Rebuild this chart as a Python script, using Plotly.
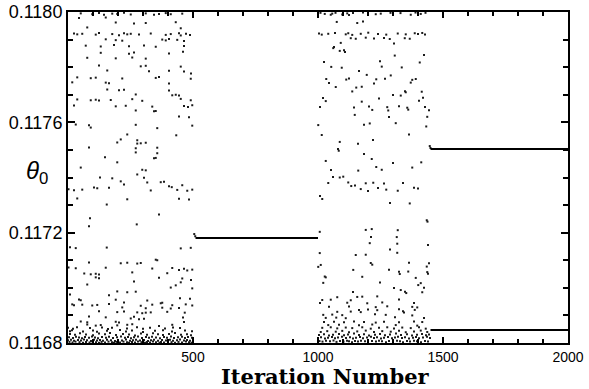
import plotly.graph_objects as go

# ---------------- data (iteration number, theta_0) ----------------
# chaotic iterates, first regime (0-500): upper part
band_a_upper = [
    (51, .117995), (97, .117992), (124, .117996), (144, .117990), (177, .117994), (197, .117993),
    (224, .117997), (251, .117991), (311, .117995), (344, .117990), (364, .117993), (391, .117996),
    (411, .117992), (457, .117994),
    (44, .117978), (151, .117980),
    (191, .117962), (264, .117958), (311, .117960), (431, .117963),
    (77, .117944), (451, .117941),
    (24, .117922), (37, .117919), (57, .117921), (111, .117918), (124, .117924), (177, .117920),
    (204, .117916), (224, .117923), (237, .117919), (251, .117921), (284, .117918), (331, .117922),
    (391, .117917), (411, .117920), (444, .117923), (451, .117915), (472, .117921), (488, .117917),
    (151, .117901), (191, .117898), (217, .117896), (377, .117900), (391, .117897), (404, .117902),
    (437, .117899), (464, .117895),
    (71, .117878), (131, .117875), (184, .117880), (244, .117876), (304, .117879), (351, .117874),
    (464, .117877),
    (131, .117852), (244, .117849), (264, .117853), (404, .117850), (460, .117856),
    (77, .117834), (191, .117832), (257, .117835), (311, .117831),
    (124, .117806), (291, .117803), (311, .117805), (451, .117802),
    (157, .117788), (324, .117785), (404, .117787), (464, .117784), (492, .117777),
    (37, .117763), (91, .117760), (111, .117762), (217, .117759), (351, .117761), (364, .117764),
    (491, .117758),
    (17, .117745), (151, .117744), (164, .117742), (404, .117741),
    (157, .117719), (204, .117716), (224, .117718), (404, .117715),
    (271, .117701), (417, .117698), (431, .117700), (444, .117697),
    (37, .117683), (91, .117680), (111, .117682), (124, .117679), (171, .117681), (257, .117684),
    (297, .117678), (451, .117685), (491, .117680),
    (24, .117661), (191, .117658), (231, .117660), (337, .117657), (464, .117659), (480, .117656),
    (497, .117662),
    (271, .117643), (344, .117640), (351, .117641),
    (444, .117621), (484, .117618),
    (31, .117592), (84, .117589), (271, .117591), (497, .117588),
    (91, .117581), (357, .117579),
    (237, .117556), (433, .117553),
    (211, .117538), (277, .117535),
    (197, .117527), (277, .117523), (291, .117524), (311, .117526),
    (84, .117509), (271, .117506), (357, .117508),
    (271, .117491), (357, .117488),
    (148, .117473), (344, .117470), (351, .117471),
    (197, .117455), (51, .117436), (297, .117428), (311, .117426), (277, .117411),
    (128, .117400), (177, .117397), (304, .117399),
    (211, .117386), (317, .117382), (371, .117383), (384, .117385),
    (224, .117375), (457, .117372), (404, .117368), (415, .117365),
    (104, .117364), (117, .117361), (164, .117363),
    (2, .117357), (24, .117354), (57, .117356), (331, .117353), (437, .117355), (477, .117352),
    (497, .117356),
    (37, .117324), (237, .117321), (444, .117323), (484, .117320),
    (155, .117302), (364, .117266), (88, .117252), (275, .117230), (84, .117223),
    (8, .117147), (31, .117144), (155, .117146), (451, .117143), (491, .117145),
]

# first regime: lower part
band_a_lower = [
    (351, .117102), (357, .117100),
    (84, .117092), (211, .117089), (237, .117091), (277, .117088), (291, .117090),
    (2, .117074), (31, .117071), (151, .117073), (337, .117070), (417, .117072), (464, .117069),
    (444, .117065), (477, .117063), (497, .117066),
    (257, .117056), (397, .117053),
    (65, .117052), (91, .117049), (111, .117051), (124, .117048),
    (111, .117038), (124, .117035), (364, .117037), (457, .117034), (492, .117028),
    (264, .117023), (451, .117020), (77, .117012), (431, .117009), (411, .117001), (497, .116998),
    (197, .116987), (237, .116984), (271, .116986), (8, .116976), (164, .116973),
    (448, .116962), (488, .116960),
    (44, .116958), (51, .116955), (191, .116957), (317, .116954),
    (224, .116947), (371, .116944), (377, .116946),
    (17, .116940), (24, .116937), (57, .116939), (97, .116936), (117, .116938), (164, .116941),
    (291, .116935), (337, .116939), (417, .116937), (471, .116940), (497, .116936),
    (217, .116929), (311, .116926), (377, .116928), (411, .116925), (444, .116927),
    (124, .116915), (197, .116912), (224, .116914), (331, .116911), (397, .116913), (467, .116910),
    (277, .116911), (297, .116908), (311, .116910),
    (84, .116896), (151, .116893), (264, .116895), (460, .116892),
    (251, .116889), (284, .116886), (304, .116888),
    (51, .116878), (77, .116875), (191, .116877), (204, .116874), (464, .116876),
    (77, .116867), (111, .116863), (131, .116865), (197, .116864), (237, .116866), (257, .116868),
    (364, .116862), (417, .116866),
]

# first regime: crowded floor near 0.1168
band_a_floor = [
    (0, .116855), (20, .116852), (36, .116857), (88, .116854), (136, .116856), (160, .116851),
    (176, .116855), (236, .116853), (276, .116857), (300, .116852), (328, .116855), (388, .116853),
    (420, .116856), (448, .116854),
    (8, .116843), (16, .116846), (60, .116842), (100, .116845), (116, .116841), (156, .116844),
    (208, .116847), (232, .116842), (256, .116845), (300, .116840), (348, .116844), (380, .116846),
    (416, .116842), (468, .116845), (496, .116843),
    (8, .116833), (28, .116830), (48, .116835), (72, .116831), (100, .116828), (124, .116834),
    (148, .116832), (168, .116836), (192, .116829), (220, .116833), (244, .116831), (268, .116827),
    (292, .116834), (316, .116830), (340, .116835), (360, .116832), (380, .116829), (404, .116833),
    (428, .116836), (452, .116830), (476, .116832), (492, .116828),
    (4, .116821), (20, .116818), (32, .116823), (44, .116820), (56, .116817), (68, .116822),
    (84, .116819), (96, .116824), (108, .116820), (120, .116817), (136, .116822), (152, .116819),
    (164, .116823), (180, .116818), (196, .116821), (212, .116824), (228, .116819), (240, .116822),
    (252, .116817), (264, .116821), (280, .116824), (296, .116818), (312, .116822), (324, .116819),
    (336, .116823), (352, .116820), (368, .116817), (384, .116822), (396, .116819), (412, .116824),
    (424, .116818), (440, .116821), (456, .116823), (468, .116818), (480, .116822), (496, .116819),
    (0, .116810), (12, .116812), (24, .116808), (40, .116811), (52, .116809), (64, .116813),
    (76, .116810), (92, .116807), (104, .116812), (116, .116809), (128, .116811), (140, .116808),
    (156, .116812), (172, .116810), (188, .116807), (200, .116811), (216, .116809), (232, .116813),
    (248, .116808), (260, .116810), (272, .116812), (288, .116809), (304, .116811), (320, .116807),
    (332, .116810), (344, .116812), (360, .116808), (376, .116811), (392, .116809), (408, .116812),
    (420, .116808), (436, .116810), (448, .116813), (464, .116809), (476, .116811), (488, .116808),
    (500, .116810),
    (6, .116804), (18, .116802), (30, .116805), (46, .116803), (60, .116801), (72, .116804),
    (86, .116802), (98, .116805), (112, .116803), (124, .116801), (134, .116804), (148, .116802),
    (162, .116805), (176, .116803), (184, .116801), (194, .116804), (208, .116802), (222, .116805),
    (236, .116803), (244, .116801), (256, .116804), (268, .116802), (280, .116805), (294, .116803),
    (308, .116801), (316, .116804), (328, .116802), (340, .116805), (352, .116803), (366, .116801),
    (372, .116804), (384, .116802), (400, .116805), (414, .116803), (428, .116801), (442, .116804),
    (456, .116802), (472, .116805), (484, .116803), (494, .116801),
]

# chaotic iterates, second regime (1000-1450): upper part
band_b_upper = [
    (1010, .117997), (1070, .117997), (1140, .117996), (1180, .117998), (1290, .117997),
    (1330, .117996), (1390, .117998), (1430, .117997),
    (1027, .117993), (1051, .117990), (1057, .117994), (1097, .117991), (1117, .117995),
    (1124, .117989), (1231, .117992), (1251, .117994), (1371, .117990), (1411, .117993),
    (1075, .117964), (1157, .117960), (1180, .117966),
    (1004, .117922), (1015, .117918), (1041, .117921), (1068, .117924), (1111, .117919),
    (1121, .117923), (1137, .117917), (1171, .117921), (1201, .117925), (1240, .117920),
    (1273, .117918), (1319, .117922), (1351, .117919), (1387, .117923), (1400, .117920),
    (1417, .117924), (1428, .117918),
    (1131, .117905), (1151, .117903), (1191, .117907), (1224, .117904), (1264, .117906),
    (1287, .117902), (1347, .117905), (1367, .117903),
    (1091, .117888), (1304, .117886),
    (1064, .117873), (1061, .117869), (1104, .117861), (1108, .117855), (1087, .117859),
    (1424, .117844), (1307, .117842),
    (1024, .117819), (1248, .117821), (1407, .117817),
    (1053, .117801), (1095, .117798), (1255, .117802), (1335, .117799),
    (1164, .117786), (1195, .117772), (1291, .117770),
    (1033, .117757), (1113, .117755), (1124, .117759), (1233, .117756), (1268, .117758),
    (1377, .117754), (1391, .117757),
    (1044, .117743), (1224, .117741), (1371, .117744),
    (1071, .117728), (1153, .117726), (1175, .117729),
    (1137, .117712), (1348, .117713), (1351, .117709), (1415, .117711),
    (1300, .117699), (1331, .117697),
    (1020, .117688), (1244, .117686), (1420, .117689),
    (1031, .117677), (1175, .117675), (1404, .117678),
    (1008, .117656), (1144, .117654), (1204, .117657), (1277, .117655), (1324, .117658),
    (1357, .117653), (1428, .117656),
    (1217, .117645), (1281, .117643), (1361, .117646), (1444, .117644),
    (1147, .117627), (1284, .117619), (1437, .117620),
    (1001, .117590), (1184, .117591), (1207, .117596), (1311, .117597), (1433, .117585),
    (1015, .117554), (1364, .117556), (1220, .117536), (1087, .117529), (1160, .117522),
    (1080, .117503), (1083, .117497), (1184, .117485), (1215, .117467), (1031, .117460),
    (1300, .117453), (1413, .117455), (1233, .117438), (1377, .117436),
    (1052, .117427), (1161, .117425), (1255, .117428),
    (1060, .117402), (1087, .117400), (1101, .117403),
    (1041, .117380), (1121, .117382), (1191, .117379), (1221, .117381), (1264, .117378),
    (1340, .117380),
    (1133, .117369), (1148, .117371), (1240, .117362), (1384, .117363), (1400, .117360),
    (1171, .117358), (1273, .117356), (1200, .117351), (1319, .117352),
    (1008, .117333), (1017, .117322), (1288, .117308), (1367, .117306),
    (1435, .117245), (1438, .117240), (1215, .117213), (1191, .117210), (1319, .117209),
    (1007, .117203), (1212, .117184), (1315, .117184), (1207, .117162), (1317, .117160),
    (1440, .117155), (1288, .117139),
]

# second regime: lower part
band_b_lower = [
    (1007, .117126), (1317, .117127), (1151, .117119), (1191, .117120),
    (1211, .117090), (1364, .117091), (1444, .117089), (1011, .117083), (1217, .117084),
    (1001, .117076), (1435, .117077), (1141, .117065), (1284, .117066),
    (1324, .117058), (1361, .117059), (1437, .117057), (1327, .117050), (1440, .117051),
    (1177, .117040), (1027, .117041), (1031, .117038), (1391, .117036),
    (1021, .117018), (1248, .117019), (1411, .117017), (1401, .117010),
    (1304, .116999), (1424, .117000), (1331, .116992),
    (1140, .116985), (1348, .116986), (1417, .116984), (1353, .116981),
    (1157, .116967), (1177, .116968), (1077, .116966), (1237, .116969),
    (1017, .116956), (1051, .116957), (1131, .116955), (1324, .116958),
    (1008, .116945), (1117, .116946), (1197, .116944), (1257, .116947), (1384, .116945),
    (1044, .116931), (1124, .116932), (1231, .116930), (1277, .116933), (1377, .116931),
    (1397, .116929),
    (1164, .116920), (1200, .116921), (1237, .116919), (1324, .116922), (1387, .116920),
    (1077, .116913), (1131, .116914), (1171, .116912), (1340, .116915), (1344, .116911),
    (1021, .116902), (1057, .116903), (1097, .116901), (1228, .116904), (1271, .116902),
    (1377, .116900),
    (1031, .116891), (1073, .116892), (1111, .116890), (1308, .116893), (1424, .116891),
    (1024, .116876), (1064, .116877), (1104, .116875), (1144, .116878), (1184, .116876),
    (1231, .116874), (1264, .116877), (1324, .116875), (1384, .116878), (1417, .116876),
    (1041, .116865), (1084, .116866), (1164, .116864), (1217, .116867), (1311, .116865),
    (1397, .116863),
]

# second regime: crowded floor near 0.1168
band_b_floor = [
    (1017, .116855), (1051, .116857), (1077, .116853), (1111, .116856), (1137, .116854),
    (1177, .116857), (1211, .116852), (1244, .116855), (1277, .116857), (1304, .116853),
    (1337, .116856), (1371, .116854), (1404, .116857), (1431, .116852),
    (1011, .116840), (1037, .116843), (1071, .116841), (1097, .116844), (1124, .116839),
    (1157, .116842), (1191, .116845), (1224, .116840), (1257, .116843), (1291, .116841),
    (1324, .116844), (1351, .116839), (1384, .116842), (1411, .116845), (1437, .116840),
    (1004, .116829), (1024, .116832), (1044, .116827), (1060, .116830), (1084, .116833),
    (1104, .116828), (1120, .116831), (1144, .116834), (1164, .116829), (1184, .116832),
    (1204, .116827), (1228, .116830), (1248, .116833), (1268, .116828), (1288, .116831),
    (1312, .116834), (1332, .116829), (1356, .116832), (1376, .116827), (1396, .116830),
    (1416, .116833), (1432, .116828), (1444, .116831),
    (1000, .116818), (1012, .116821), (1028, .116816), (1040, .116819), (1056, .116822),
    (1068, .116817), (1080, .116820), (1096, .116823), (1112, .116818), (1128, .116821),
    (1140, .116816), (1152, .116819), (1168, .116822), (1180, .116817), (1196, .116820),
    (1212, .116823), (1224, .116818), (1236, .116821), (1252, .116816), (1264, .116819),
    (1280, .116822), (1296, .116817), (1308, .116820), (1320, .116823), (1336, .116818),
    (1348, .116821), (1364, .116816), (1380, .116819), (1392, .116822), (1404, .116817),
    (1420, .116820), (1436, .116823), (1448, .116818),
    (1006, .116807), (1018, .116805), (1032, .116808), (1048, .116806), (1062, .116809),
    (1074, .116804), (1088, .116807), (1102, .116805), (1116, .116808), (1124, .116806),
    (1136, .116803), (1148, .116807), (1160, .116805), (1172, .116808), (1188, .116806),
    (1200, .116803), (1216, .116807), (1232, .116805), (1244, .116808), (1256, .116806),
    (1272, .116803), (1284, .116807), (1300, .116805), (1316, .116808), (1328, .116806),
    (1340, .116803), (1356, .116807), (1368, .116805), (1384, .116808), (1396, .116806),
    (1412, .116803), (1428, .116807), (1440, .116805),
]

# transients entering the stable states
transient_points = [(505, .117195), (509, .117187), (1447, .117514), (1450, .117507)]

# fixed point (iterations ~510-1000) and period-2 cycle (iterations ~1450-2000)
fixed_iter = [510, 1000]
fixed_theta = [0.117181, 0.117181]
cycle_iter = [1450, 2000]
cycle_theta_high = [0.117503, 0.117503]
cycle_theta_low = [0.116847, 0.116847]

x_tick_vals = [500, 1000, 1500, 2000]
y_tick_vals = [0.1168, 0.1172, 0.1176, 0.1180]
y_tick_text = ["0.1168", "0.1172", "0.1176", "0.1180"]

# ---------------- figure ----------------
all_points = band_a_upper + band_a_lower + band_a_floor + band_b_upper + band_b_lower + band_b_floor + transient_points
px_iter = [p[0] for p in all_points]
px_theta = [p[1] for p in all_points]

fig = go.Figure()
fig.add_trace(go.Scatter(
    x=px_iter, y=px_theta, mode="markers",
    marker=dict(symbol="square", size=2, color="#1a1a1a", line=dict(width=0)),
    hoverinfo="skip", showlegend=False,
))
for xs, ys in [(fixed_iter, fixed_theta), (cycle_iter, cycle_theta_high), (cycle_iter, cycle_theta_low)]:
    fig.add_trace(go.Scatter(x=xs, y=ys, mode="lines", line=dict(color="black", width=2),
                             hoverinfo="skip", showlegend=False))

axis_common = dict(
    showline=True, linewidth=2, linecolor="black", mirror="ticks",
    ticks="inside", tickcolor="black", tickwidth=2,
    showgrid=False, zeroline=False, automargin=False,
)

fig.update_layout(
    width=589, height=389,
    margin=dict(l=68, r=21, t=12, b=46),
    paper_bgcolor="white", plot_bgcolor="white",
    xaxis=dict(range=[0, 2000], tickvals=x_tick_vals, ticklen=6,
               tickfont=dict(family="Liberation Sans, Arial, sans-serif", size=14, color="black"),
               minor=dict(tick0=0, dtick=100, ticks="inside", ticklen=4, tickwidth=1.5,
                          tickcolor="black", showgrid=False),
               **axis_common),
    yaxis=dict(range=[0.1168, 0.1180], tickvals=y_tick_vals, ticktext=y_tick_text, ticklen=7,
               tickfont=dict(family="Liberation Sans, Arial, sans-serif", size=18, color="black"),
               minor=dict(tick0=0.1168, dtick=0.0001, ticks="inside", ticklen=5, tickwidth=1.5,
                          tickcolor="black", showgrid=False),
               **axis_common),
)

fig.add_annotation(
    text="Iteration Number", xref="paper", yref="paper", x=0.514, y=-0.101,
    xanchor="center", yanchor="middle", showarrow=False,
    font=dict(family="DejaVu Serif, serif", size=21, color="black", weight="bold"),
)
fig.add_annotation(
    text="<i>θ</i><sub>0</sub>", xref="paper", yref="paper", x=-0.062, y=0.515,
    xanchor="center", yanchor="middle", showarrow=False,
    font=dict(family="Liberation Sans, Arial, sans-serif", size=24, color="black"),
)

fig.write_html("out.html")
